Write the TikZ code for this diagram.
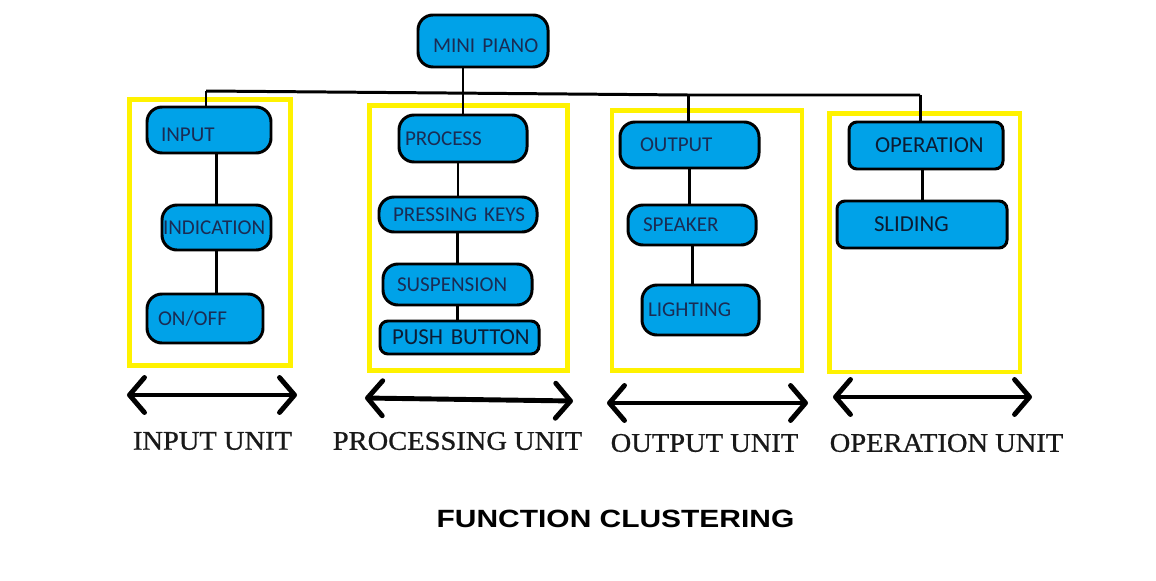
\documentclass[tikz,border=0pt]{standalone}
\usepackage{fontspec}
\setmainfont{Liberation Serif}
\newfontfamily\boxfont{Carlito}
\newfontfamily\headfont{Liberation Sans}
\newfontfamily\unitfont{Liberation Serif}[FakeBold=0.8]
\usepackage{tikz}
\usetikzlibrary{arrows.meta}
\definecolor{paintblue}{RGB}{0,162,232}
\definecolor{paintyellow}{RGB}{255,242,0}
\definecolor{navy}{RGB}{26,44,84}
\definecolor{deepnavy}{RGB}{12,28,52}
\tikzset{
  blk/.style 2 args={
    draw=black, line width=1.7pt, fill=paintblue, rounded corners=3mm,
    text width=#1, inner xsep=#2, inner ysep=0pt, align=left,
    text=navy, font=\boxfont\fontsize{12}{14}\selectfont
  }}
\tikzset{
  bigblk/.style={rounded corners=1.6mm, text=deepnavy, font=\boxfont\fontsize{13}{15}\selectfont}}
\tikzset{
  lowtext/.style={text height=13pt, text depth=0pt}}
\tikzset{
  cluster/.style={draw=paintyellow, line width=2.8pt}}
\tikzset{
  link/.style={draw=black, line width=1.7pt}}
\tikzset{
  span/.style={
    {Straight Barb[round,length=3mm,width=7mm]}-{Straight Barb[round,length=3mm,width=7mm]},
    line width=2.8pt, line cap=round}}
\tikzset{
  unitlabel/.style={inner sep=0pt, xscale=1.06, text=black!90, font=\unitfont\fontsize{15.3}{18}\selectfont}}
\tikzset{
  headlabel/.style={inner sep=0pt, xscale=1.2, text=black, font=\headfont\bfseries\fontsize{14.2}{17}\selectfont}}

\begin{document}
\begin{tikzpicture}[x=0.2mm,y=-0.2mm]
    \useasboundingbox (0,0) rectangle (1156,581);
    \begin{scope}
    \draw[cluster] (129.5,99.5) rectangle (290.5,365.5);
    \draw[cluster] (369.5,105.5) rectangle (567.5,370.5);
    \draw[cluster] (612,110.5) rectangle (802,370.5);
    \draw[cluster] (829.5,113.5) rectangle (1020,372);
    \end{scope}
    % top of the tree
    \node[blk={20mm}{3mm}, minimum height=10.4mm, lowtext] (piano) at (483,41) {\mbox{MINI PIANO}};
    % input unit
    \node[blk={19.2mm}{2.8mm}, minimum height=9.2mm, lowtext] (input) at (209,130) {INPUT};
    \node[blk={21.4mm}{0.2mm}, minimum height=9mm] (indication) at (216.5,227.5) {INDICATION};
    \node[blk={18.8mm}{2.2mm}, minimum height=9.8mm] (onoff) at (205,318.5) {ON/OFF};
    % processing unit
    \node[blk={23.2mm}{1.2mm}, minimum height=9.4mm] (process) at (463,138.5) {PROCESS};
    \node[blk={26mm}{2.8mm}, minimum height=7mm] (keys) at (458,214.5) {\mbox{PRESSING KEYS}};
    \node[blk={24.2mm}{2.8mm}, minimum height=8.2mm] (suspension) at (457.5,284.5) {SUSPENSION};
    \node[blk={27mm}{2.4mm}, minimum height=6.6mm, bigblk] (button) at (459.5,337.5) {\mbox{PUSH BUTTON}};
    % output unit
    \node[blk={19.8mm}{4mm}, minimum height=9.2mm] (output) at (689.5,145) {OUTPUT};
    \node[blk={19.6mm}{3mm}, minimum height=8mm] (speaker) at (692,225) {SPEAKER};
    \node[blk={21mm}{1.2mm}, minimum height=10mm] (lighting) at (700.5,310) {LIGHTING};
    % operation unit
    \node[blk={20.4mm}{5.2mm}, minimum height=9.4mm, bigblk] (operation) at (926,145.5) {OPERATION};
    \node[blk={19.2mm}{7.4mm}, minimum height=9.4mm, bigblk] (sliding) at (922,224.5) {SLIDING};
    % bus
    \coordinate (busin) at (206,91);
    \coordinate (busout) at (688,95);
    \coordinate (busop) at (920,95);
    \draw[link] (busin) -- (busout) -- (busop);
    \draw[link] (busin) -- (busin |- input.north);
    \draw[link] (busout) -- (busout |- output.north);
    \draw[link] (busop) -- (busop |- operation.north);
    \draw[link] (piano.south -| process.north) -- (process.north);
    % inside the clusters
    \draw[link] (input.south -| indication.north) -- (indication.north);
    \draw[link] (indication.south) -- (indication.south |- onoff.north);
    \draw[link] (process.south -| keys.north) -- (keys.north);
    \draw[link] (keys.south -| suspension.north) -- (suspension.north);
    \draw[link] (suspension.south) -- (suspension.south |- button.north);
    \draw[link] (output.south) -- (output.south |- speaker.north);
    \draw[link] (speaker.south) -- (speaker.south |- lighting.north);
    \draw[link] (operation.south -| sliding.north) -- (sliding.north);
    % spans
    \coordinate (inL) at (127,395);
    \coordinate (inR) at (297,395);
    \coordinate (procL) at (365,398);
    \coordinate (procR) at (573,401);
    \coordinate (outL) at (607,403);
    \coordinate (outR) at (808,403);
    \coordinate (opL) at (833,397);
    \coordinate (opR) at (1032,397);
    \draw[span] (inL) -- (inR);
    \draw[span] (procL) -- (procR);
    \draw[span] (outL) -- (outR);
    \draw[span] (opL) -- (opR);
    \node[unitlabel] (inlab) at (212.5,441) {INPUT UNIT};
    \node[unitlabel] (proclab) at (457.5,441) {PROCESSING UNIT};
    \node[unitlabel] (outlab) at (704.5,443) {OUTPUT UNIT};
    \node[unitlabel] (oplab) at (946.5,443) {OPERATION UNIT};
    \node[headlabel] (title) at (615.5,519) {FUNCTION CLUSTERING};
\end{tikzpicture}
\end{document}
